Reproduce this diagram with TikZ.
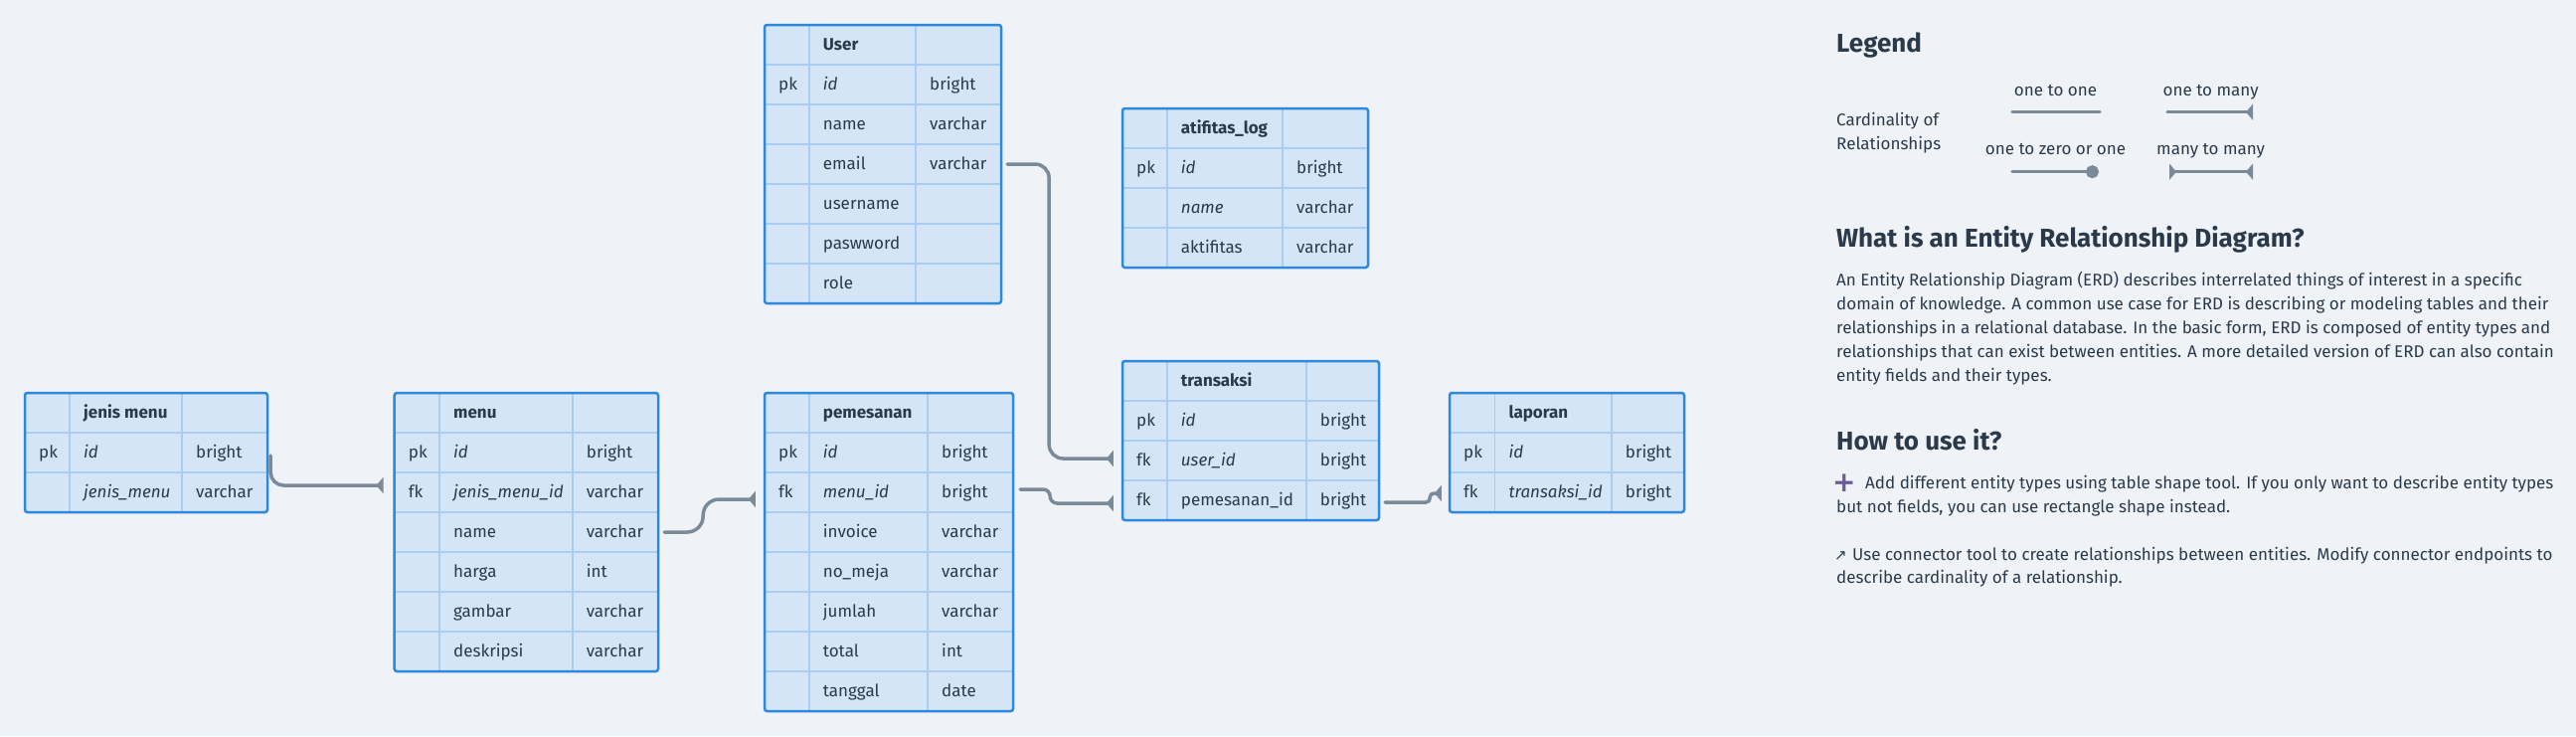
\documentclass[tikz,border=0pt]{standalone}
\usepackage{fontspec}
\setmainfont{Fira Sans}
\newfontfamily\symfont{DejaVu Sans}
\usetikzlibrary{arrows.meta,calc}
\definecolor{bg}{HTML}{EFF3F7}
\definecolor{tfill}{HTML}{D3E5F6}
\definecolor{tborder}{HTML}{2D89DB}
\definecolor{tgrid}{HTML}{A9CEF1}
\definecolor{ink}{HTML}{2B3A4B}
\definecolor{conncol}{HTML}{7B8A99}
\definecolor{pluscol}{HTML}{6B5B9E}
\tikzset{
  gridline/.style={draw=tgrid, line width=1.6pt},
  rowbox/.style={rectangle, inner sep=0pt, minimum height=40pt},
  tablebox/.style={rectangle, draw=tborder, line width=2.5pt, rounded corners=2.5pt, inner sep=0pt},
  celltext/.style={anchor=base west, inner sep=0pt, text=ink},
  conn/.style={draw=conncol, line width=3.5pt, line cap=round},
  manyend/.style={-{Triangle[reversed,length=7pt,width=16pt]}},
  manyboth/.style={{Triangle[reversed,length=7pt,width=16pt]}-{Triangle[reversed,length=7pt,width=16pt]}},
  dotend/.style={-{Circle[length=13pt]}},
  heading/.style={anchor=base west, inner sep=0pt, text=ink, font=\fontsize{26}{30}\selectfont\bfseries},
  body/.style={anchor=base west, inner sep=0pt, text=ink, font=\fontsize{17}{24}\selectfont},
  lbl/.style={anchor=base, inner sep=0pt, text=ink, font=\fontsize{17}{24}\selectfont},
}
\newcommand\mktable[7]{%
  \expandafter\xdef\csname tL#1\endcsname{#2}%
  \expandafter\xdef\csname tT#1\endcsname{#3}%
  \expandafter\xdef\csname tA#1\endcsname{#4}%
  \expandafter\xdef\csname tB#1\endcsname{#5}%
  \pgfmathsetmacro\tabbot{#3+40*#7}%
  \pgfmathsetmacro\tabw{#6-#2}%
  \pgfmathsetmacro\tabh{40*#7}%
  \pgfmathsetmacro\tabcx{(#2+#6)/2}%
  \pgfmathtruncatemacro\nlast{#7-1}%
  \fill[tfill] (#2,#3) rectangle (#6,\tabbot);
  \foreach \i in {1,...,\nlast}{\draw[gridline] (#2,#3+40*\i) -- (#6,#3+40*\i);}
  \draw[gridline] (#4,#3) -- (#4,\tabbot);
  \draw[gridline] (#5,#3) -- (#5,\tabbot);
  \foreach \i in {0,...,\nlast}{\node[rowbox, minimum width=\tabw pt] (#1-r\i) at (\tabcx,#3+40*\i+20) {};}
  \node[tablebox, minimum width=\tabw pt, minimum height=\tabh pt] (#1) at (\tabcx,{#3+\tabh/2}) {};
}
\newcommand\trow[5]{%
  \edef\erdL{\csname tL#1\endcsname}%
  \edef\erdA{\csname tA#1\endcsname}%
  \edef\erdB{\csname tB#1\endcsname}%
  \pgfmathsetmacro\erdY{\csname tT#1\endcsname+40*#2+25.5}%
  \ifx\relax#3\relax\else\node[celltext] (#1-k#2) at (\erdL+14,\erdY) {#3};\fi
  \ifx\relax#4\relax\else\node[celltext] (#1-f#2) at (\erdA+14,\erdY) {#4};\fi
  \ifx\relax#5\relax\else\node[celltext] (#1-t#2) at (\erdB+14,\erdY) {#5};\fi
}
\begin{document}
\begin{tikzpicture}[x=1pt, y=-1pt, font=\fontsize{17}{20}\selectfont]
\fill[bg] (0,0) rectangle (2591,740);
\useasboundingbox (0,0) rectangle (2591,740);

% ---------- tables ----------
\mktable{user}{769}{25}{813.7}{921}{1007}{7}
\trow{user}{0}{}{\textbf{User}}{}
\trow{user}{1}{pk}{\textit{id}}{bright}
\trow{user}{2}{}{name}{varchar}
\trow{user}{3}{}{email}{varchar}
\trow{user}{4}{}{username}{}
\trow{user}{5}{}{paswword}{}
\trow{user}{6}{}{role}{}

\mktable{log}{1129}{109}{1173.7}{1290}{1376}{4}
\trow{log}{0}{}{\textbf{atifitas\_log}}{}
\trow{log}{1}{pk}{\textit{id}}{bright}
\trow{log}{2}{}{\textit{name}}{varchar}
\trow{log}{3}{}{aktifitas}{varchar}

\mktable{jenis}{25}{395}{70}{183}{269}{3}
\trow{jenis}{0}{}{\textbf{jenis menu}}{}
\trow{jenis}{1}{pk}{\textit{id}}{bright}
\trow{jenis}{2}{}{\textit{jenis\_menu}}{varchar}

\mktable{menu}{396.7}{395}{442}{575.7}{662}{7}
\trow{menu}{0}{}{\textbf{menu}}{}
\trow{menu}{1}{pk}{\textit{id}}{bright}
\trow{menu}{2}{fk}{\textit{jenis\_menu\_id}}{varchar}
\trow{menu}{3}{}{name}{varchar}
\trow{menu}{4}{}{harga}{int}
\trow{menu}{5}{}{gambar}{varchar}
\trow{menu}{6}{}{deskripsi}{varchar}

\mktable{pesan}{769}{395}{813.7}{933}{1019}{8}
\trow{pesan}{0}{}{\textbf{pemesanan}}{}
\trow{pesan}{1}{pk}{\textit{id}}{bright}
\trow{pesan}{2}{fk}{\textit{menu\_id}}{bright}
\trow{pesan}{3}{}{invoice}{varchar}
\trow{pesan}{4}{}{no\_meja}{varchar}
\trow{pesan}{5}{}{jumlah}{varchar}
\trow{pesan}{6}{}{total}{int}
\trow{pesan}{7}{}{tanggal}{date}

\mktable{trans}{1129}{363}{1173.7}{1313.7}{1387}{4}
\trow{trans}{0}{}{\textbf{transaksi}}{}
\trow{trans}{1}{pk}{\textit{id}}{bright}
\trow{trans}{2}{fk}{\textit{user\_id}}{bright}
\trow{trans}{3}{fk}{pemesanan\_id}{bright}

\mktable{lap}{1458}{395}{1503.3}{1620.7}{1694}{3}
\trow{lap}{0}{}{\textbf{laporan}}{}
\trow{lap}{1}{pk}{\textit{id}}{bright}
\trow{lap}{2}{fk}{\textit{transaksi\_id}}{bright}

% ---------- connectors ----------
\coordinate (c1s) at ($(jenis-r1.east)+(3,3)$);
\coordinate (c1e) at ($(menu-r2.west)+(-11,-7)$);
\draw[conn, manyend, rounded corners=13pt] (c1s) |- (c1e);

\coordinate (c2s) at ($(user-r3.east)+(6,0)$);
\coordinate (c2e) at ($(trans-r2.west)+(-9,-2)$);
\draw[conn, manyend, rounded corners=14pt] (c2s) -- ++(42,0) |- (c2e);

\coordinate (c3s) at ($(pesan-r2.east)+(7,-3)$);
\coordinate (c3e) at ($(trans-r3.west)+(-9,3)$);
\draw[conn, manyend, rounded corners=7pt] (c3s) -- ++(30,0) |- (c3e);

\coordinate (c4s) at ($(menu-r3.east)+(6,0)$);
\coordinate (c4e) at ($(pesan-r2.west)+(-9,7)$);
\draw[conn, manyend, rounded corners=16pt] (c4s) -- ++(39,0) |- (c4e);

\coordinate (c5s) at ($(trans-r3.east)+(6,2)$);
\coordinate (c5e) at ($(lap-r2.west)+(-8,1)$);
\draw[conn, manyend, rounded corners=4pt] (c5s) -- ++(45,0) |- (c5e);

% ---------- legend ----------
\node[heading] (legend) at (1847,52.7) {Legend};
\node[body] (card1) at (1847,126.7) {Cardinality of};
\node[body] (card2) at (1847,150) {Relationships};
\node[lbl] (l11) at (2067.5,96) {one to one};
\node[lbl] (l1n) at (2223.6,96) {one to many};
\node[lbl] (l10) at (2067.5,155.7) {one to zero or one};
\node[lbl] (lnn) at (2223.6,155.7) {many to many};
\coordinate (a1) at (2024,112.7); \coordinate (a2) at (2112,112.7);
\coordinate (b1) at (2180,112.7); \coordinate (b2) at (2266,112.7);
\coordinate (d1) at (2024,172.7); \coordinate (d2) at (2111,172.7);
\coordinate (e1) at (2182,172.7); \coordinate (e2) at (2266,172.7);
\draw[conn] (a1) -- (a2);
\draw[conn, manyend] (b1) -- (b2);
\draw[conn, dotend] (d1) -- (d2);
\draw[conn, manyboth] (e1) -- (e2);

\node[heading] (what) at (1847,248.3) {What is an Entity Relationship Diagram?};
\node[body] (w1) at (1847,287.3) {An Entity Relationship Diagram (ERD) describes interrelated things of interest in a specific};
\node[body] (w2) at (1847,311.3) {domain of knowledge. A common use case for ERD is describing or modeling tables and their};
\node[body] (w3) at (1847,335.3) {relationships in a relational database. In the basic form, ERD is composed of entity types and};
\node[body] (w4) at (1847,359.3) {relationships that can exist between entities. A more detailed version of ERD can also contain};
\node[body] (w5) at (1847,383.3) {entity fields and their types.};

\node[heading] (how) at (1847,452.7) {How to use it?};
\node[anchor=base west, inner sep=0pt, text=pluscol, font=\symfont\bfseries\fontsize{28}{30}\selectfont] (plus) at (1843,494) {+};
\node[body] (h1) at (1876,491) {Add different entity types using table shape tool. If you only want to describe entity types};
\node[body] (h2) at (1847,515) {but not fields, you can use rectangle shape instead.};
\node[anchor=base west, inner sep=0pt, text=ink, font=\symfont\fontsize{15}{18}\selectfont] (arr) at (1845,563.3) {↗};
\node[body] (h3) at (1863,563.3) {Use connector tool to create relationships between entities. Modify connector endpoints to};
\node[body] (h4) at (1847,586.7) {describe cardinality of a relationship.};
\end{tikzpicture}
\end{document}
